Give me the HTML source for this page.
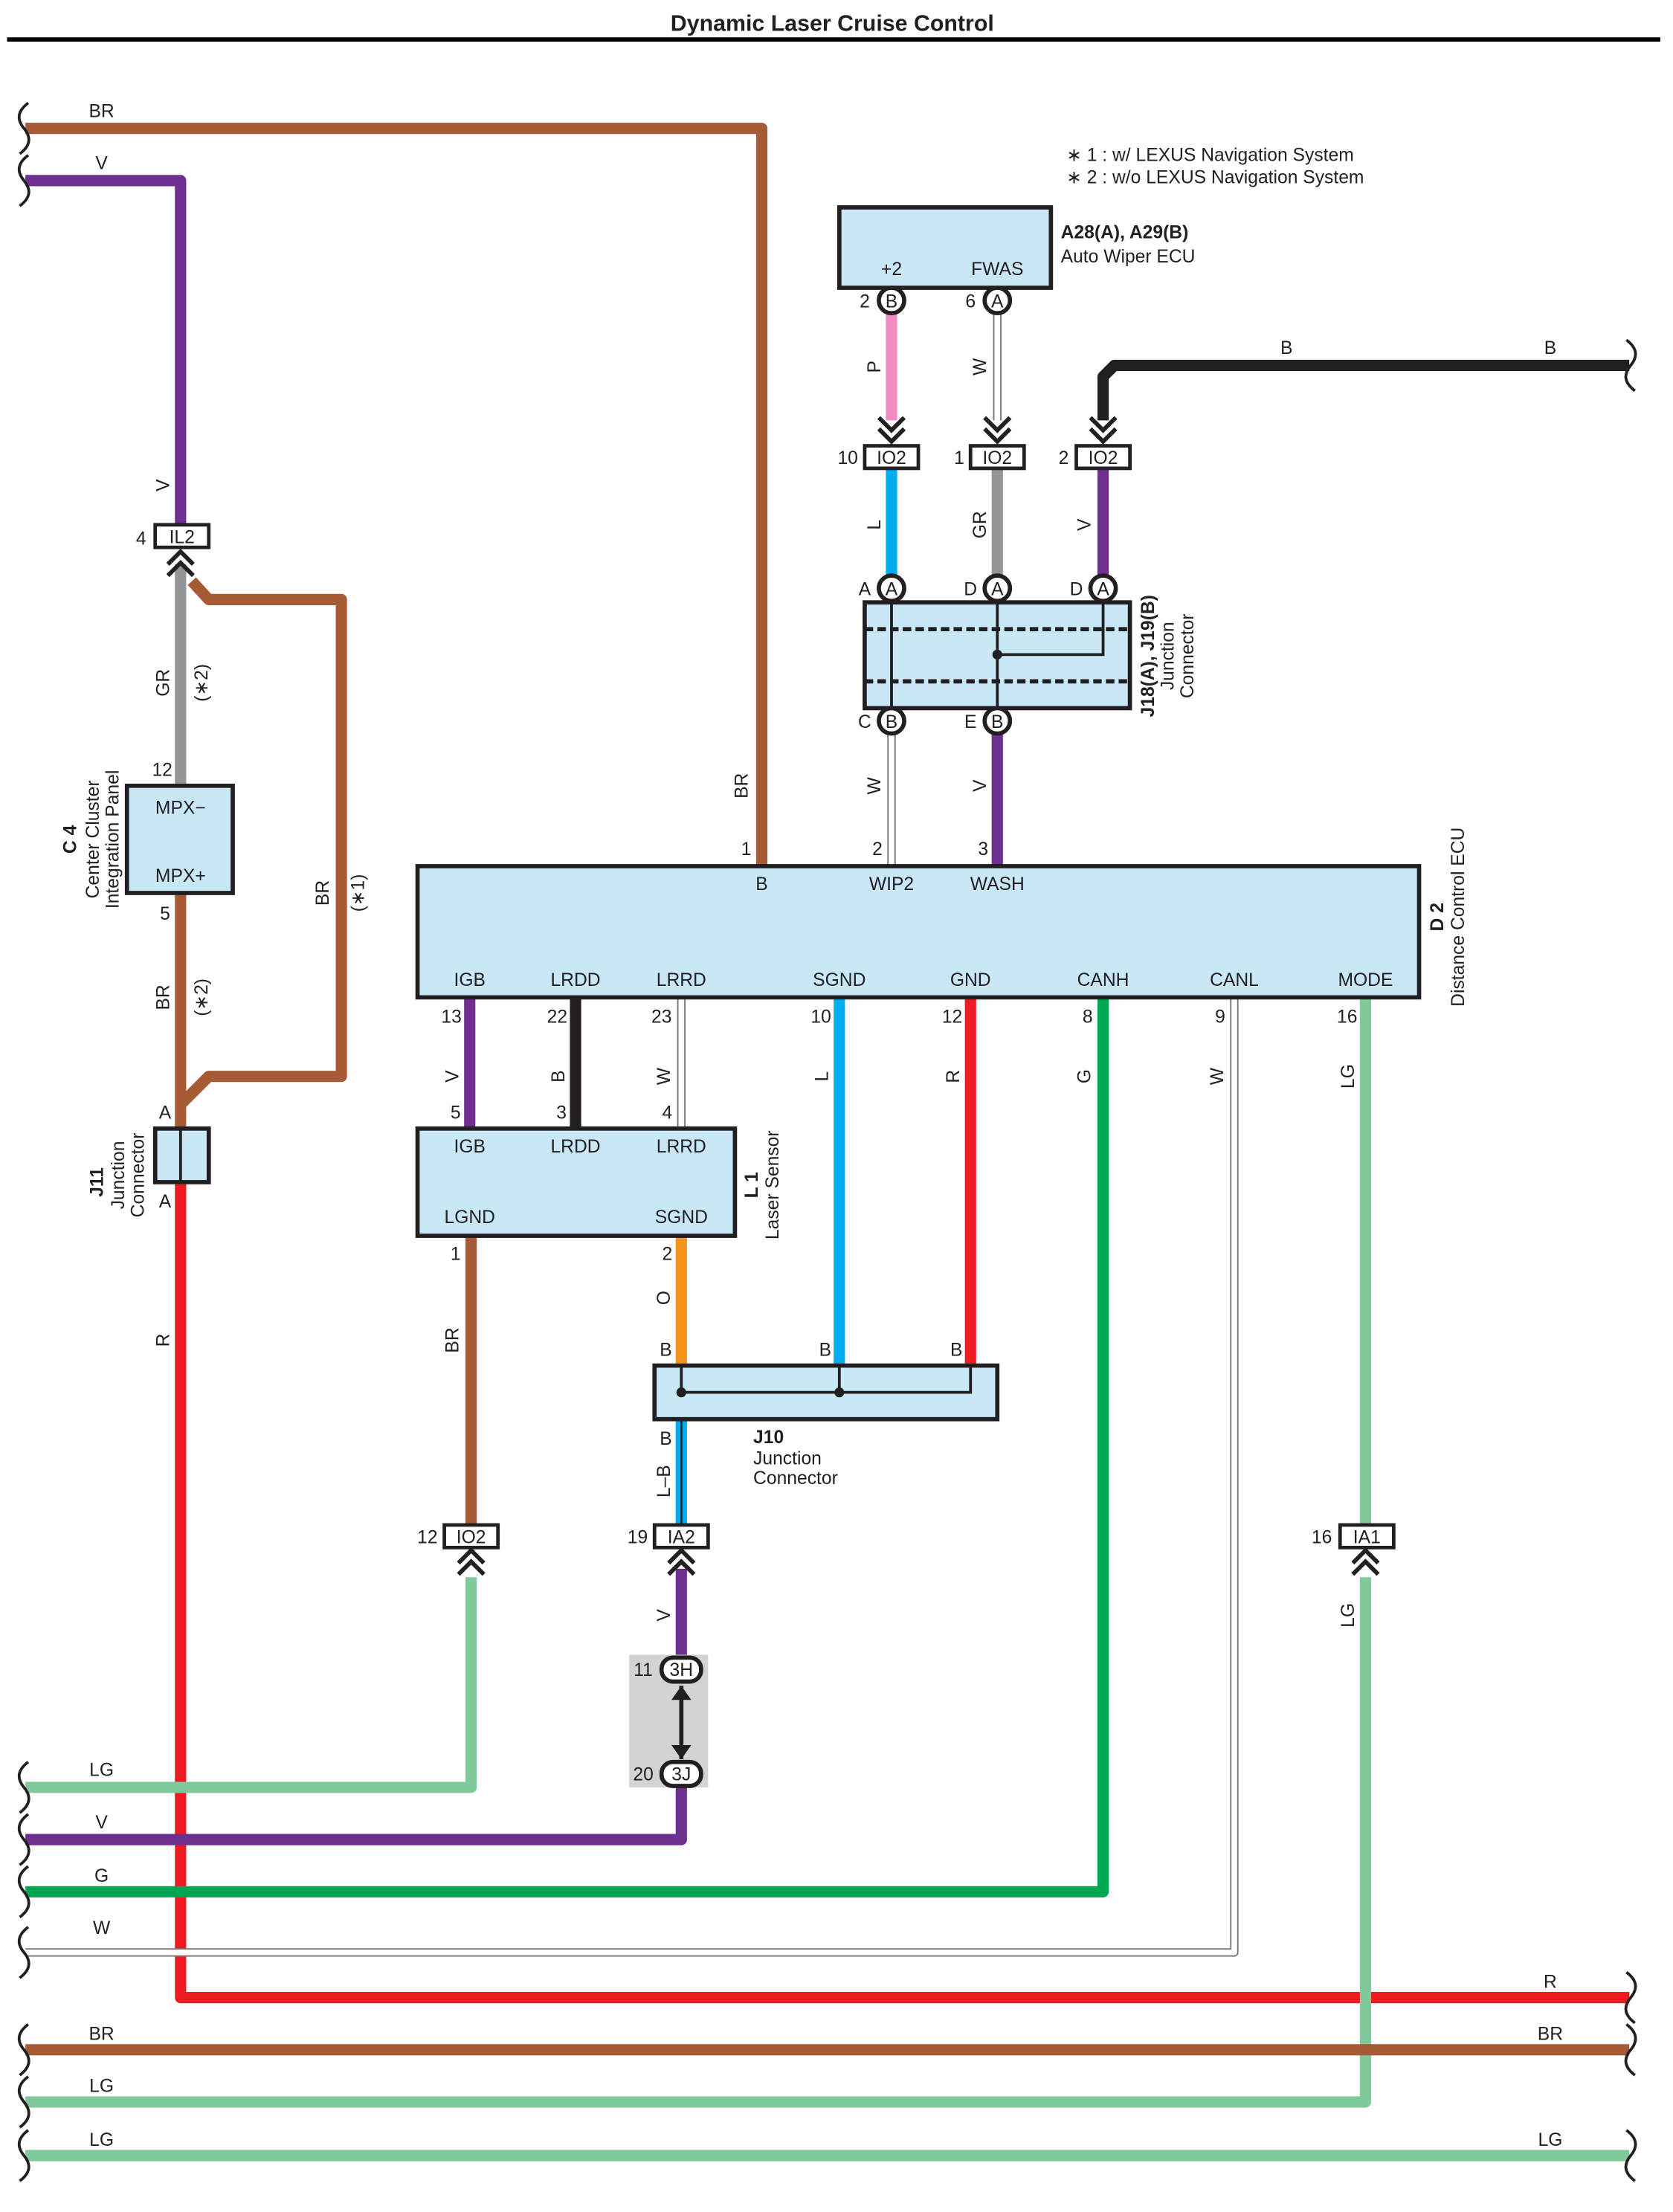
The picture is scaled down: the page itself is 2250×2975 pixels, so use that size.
<!DOCTYPE html>
<html><head><meta charset="utf-8"><style>
html,body{margin:0;padding:0;background:#fff;}
svg{display:block;}
text{font-family:"Liberation Sans",sans-serif;font-size:13px;fill:#231f20;}
.b{font-weight:bold;}
.m{text-anchor:middle;}
</style></head><body>
<svg width="2250" height="2975" viewBox="0 0 1186 1568" preserveAspectRatio="none" xmlns="http://www.w3.org/2000/svg">
<rect width="1186" height="1568" fill="#fff"/>
<text x="590" y="22" class="b m" style="font-size:16px">Dynamic Laser Cruise Control</text>
<line x1="5" y1="28" x2="1177" y2="28" stroke="#000" stroke-width="3"/>

<g fill="none" stroke-linejoin="round" stroke-width="8">
<polyline points="18,91 540,91 540,614" stroke="#a65a35"/>
<polyline points="18,128 128,128 128,372" stroke="#6e2f8e"/>
<polyline points="128,400 128,557" stroke="#939598"/>
<polyline points="136,412 148,425 242,425 242,763 148,763 128,783" stroke="#a65a35"/>
<polyline points="128,633 128,800" stroke="#a65a35"/>
<polyline points="128,838 128,1416 1155,1416" stroke="#ed1c24"/>
<polyline points="333,707 333,800" stroke="#6e2f8e"/>
<polyline points="408,707 408,800" stroke="#231f20"/>
<polyline points="595,707 595,968" stroke="#00aeef"/>
<polyline points="688,707 688,968" stroke="#ed1c24"/>
<polyline points="483,876 483,968" stroke="#f7941d"/>
<polyline points="334,876 334,1081" stroke="#a65a35"/>
<polyline points="334,1118 334,1267 18,1267" stroke="#80c99b"/>
<polyline points="483,1006 483,1081" stroke="#00aeef"/>
<polyline points="483,1112 483,1175" stroke="#6e2f8e"/>
<polyline points="483,1267 483,1304 18,1304" stroke="#6e2f8e"/>
<polyline points="782,707 782,1341 18,1341" stroke="#00a651"/>
<polyline points="968,707 968,1081" stroke="#80c99b"/>
<polyline points="968,1118 968,1490 18,1490" stroke="#80c99b"/>
<polyline points="18,1453 1155,1453" stroke="#a65a35"/>
<polyline points="18,1528 1155,1528" stroke="#80c99b"/>
<polyline points="632,222 632,298" stroke="#f08cbf"/>
<polyline points="1155,259 790,259 782,267 782,298" stroke="#231f20"/>
<polyline points="632,332 632,408" stroke="#00aeef"/>
<polyline points="707,332 707,408" stroke="#939598"/>
<polyline points="782,332 782,408" stroke="#6e2f8e"/>
<polyline points="707,520 707,614" stroke="#6e2f8e"/>
</g>
<line x1="483" y1="1006" x2="483" y2="1081" stroke="#231f20" stroke-width="1.5"/>
<g fill="none" stroke-linejoin="round">
<polyline points="483,707 483,800" stroke="#777" stroke-width="6"/>
<polyline points="483,707 483,800" stroke="#fff" stroke-width="4"/>
<polyline points="875,707 875,1384 18,1384" stroke="#777" stroke-width="6"/>
<polyline points="875,707 875,1384 18,1384" stroke="#fff" stroke-width="4"/>
<polyline points="707,222 707,298" stroke="#777" stroke-width="6"/>
<polyline points="707,222 707,298" stroke="#fff" stroke-width="4"/>
<polyline points="632,520 632,614" stroke="#777" stroke-width="6"/>
<polyline points="632,520 632,614" stroke="#fff" stroke-width="4"/>
</g>

<g fill="none" stroke="#231f20" stroke-width="2">
<path d="M20,73 c-8,6 -8,12 -3,18 c5,6 5,12 -3,18"/>
<path d="M20,110 c-8,6 -8,12 -3,18 c5,6 5,12 -3,18"/>
<path d="M20,1249 c-8,6 -8,12 -3,18 c5,6 5,12 -3,18"/>
<path d="M20,1286 c-8,6 -8,12 -3,18 c5,6 5,12 -3,18"/>
<path d="M20,1323 c-8,6 -8,12 -3,18 c5,6 5,12 -3,18"/>
<path d="M20,1366 c-8,6 -8,12 -3,18 c5,6 5,12 -3,18"/>
<path d="M20,1435 c-8,6 -8,12 -3,18 c5,6 5,12 -3,18"/>
<path d="M20,1472 c-8,6 -8,12 -3,18 c5,6 5,12 -3,18"/>
<path d="M20,1510 c-8,6 -8,12 -3,18 c5,6 5,12 -3,18"/>
<path d="M1153,241 c8,6 8,12 3,18 c-5,6 -5,12 3,18"/>
<path d="M1153,1398 c8,6 8,12 3,18 c-5,6 -5,12 3,18"/>
<path d="M1153,1435 c8,6 8,12 3,18 c-5,6 -5,12 3,18"/>
<path d="M1153,1510 c8,6 8,12 3,18 c-5,6 -5,12 3,18"/>
</g>

<g fill="none" stroke="#231f20" stroke-width="3">
<path d="M119,400 l9,-9 l9,9 M119,408 l9,-9 l9,9"/>
<path d="M325,1108 l9,-9 l9,9 M325,1116 l9,-9 l9,9"/>
<path d="M474,1108 l9,-9 l9,9 M474,1116 l9,-9 l9,9"/>
<path d="M959,1108 l9,-9 l9,9 M959,1116 l9,-9 l9,9"/>
<path d="M623,296 l9,9 l9,-9 M623,304 l9,9 l9,-9"/>
<path d="M698,296 l9,9 l9,-9 M698,304 l9,9 l9,-9"/>
<path d="M773,296 l9,9 l9,-9 M773,304 l9,9 l9,-9"/>
</g>

<g stroke="#231f20" stroke-width="3" fill="#c8e7f7">
<rect x="90" y="557" width="75" height="76"/>
<rect x="110" y="800" width="38" height="38"/>
<rect x="296" y="614" width="710" height="93"/>
<rect x="296" y="800" width="225" height="76"/>
<rect x="464" y="968" width="243" height="38"/>
<rect x="595" y="147" width="150" height="57"/>
<rect x="613" y="427" width="188" height="75"/>
</g>
<line x1="128" y1="800" x2="128" y2="838" stroke="#231f20" stroke-width="2"/>
<g stroke="#231f20" stroke-width="2" fill="none">
<polyline points="483,968 483,987 688,987 688,968"/>
<line x1="595" y1="968" x2="595" y2="987"/>
<line x1="632" y1="427" x2="632" y2="502"/>
<line x1="707" y1="427" x2="707" y2="502"/>
<polyline points="782,427 782,464 707,464"/>
<line x1="613" y1="446" x2="801" y2="446" stroke-dasharray="6,3" stroke-width="3"/>
<line x1="613" y1="483" x2="801" y2="483" stroke-dasharray="6,3" stroke-width="3"/>
</g>
<circle cx="483" cy="987" r="3.5" fill="#231f20"/>
<circle cx="595" cy="987" r="3.5" fill="#231f20"/>
<circle cx="707" cy="464" r="3.5" fill="#231f20"/>

<g stroke="#231f20" stroke-width="2.5" fill="#fff">
<rect x="110" y="372" width="38" height="16"/>
<rect x="315" y="1081" width="38" height="16"/>
<rect x="464" y="1081" width="38" height="16"/>
<rect x="950" y="1081" width="38" height="16"/>
<rect x="613" y="316" width="38" height="16"/>
<rect x="688" y="316" width="38" height="16"/>
<rect x="763" y="316" width="38" height="16"/>
</g>
<g>
<text x="129" y="385" class="m">IL2</text>
<text x="334" y="1094" class="m">IO2</text>
<text x="483" y="1094" class="m">IA2</text>
<text x="969" y="1094" class="m">IA1</text>
<text x="632" y="329" class="m">IO2</text>
<text x="707" y="329" class="m">IO2</text>
<text x="782" y="329" class="m">IO2</text>
</g>

<rect x="446" y="1173" width="56" height="94" fill="#d1d3d4"/>
<line x1="483" y1="1195" x2="483" y2="1247" stroke="#231f20" stroke-width="3"/>
<path d="M476,1205 l7,-10 l7,10 z M476,1237 l7,10 l7,-10 z" fill="#231f20"/>
<g stroke="#231f20" stroke-width="3" fill="#fff">
<rect x="469" y="1175" width="28" height="17" rx="8"/>
<rect x="469" y="1249" width="28" height="17" rx="8"/>
<circle cx="632" cy="213" r="9"/><circle cx="707" cy="213" r="9"/>
<circle cx="632" cy="417" r="9"/><circle cx="707" cy="417" r="9"/><circle cx="782" cy="417" r="9"/>
<circle cx="632" cy="511" r="9"/><circle cx="707" cy="511" r="9"/>
</g>
<g>
<text x="483" y="1188" class="m">3H</text><text x="483" y="1262" class="m">3J</text>
<text x="632" y="218" class="m">B</text><text x="707" y="218" class="m">A</text>
<text x="632" y="422" class="m">A</text><text x="707" y="422" class="m">A</text><text x="782" y="422" class="m">A</text>
<text x="632" y="516" class="m">B</text><text x="707" y="516" class="m">B</text>
</g>

<g>
<text x="456" y="1188" class="m">11</text><text x="456" y="1262" class="m">20</text>
<text x="613" y="218" class="m">2</text><text x="688" y="218" class="m">6</text>
<text x="601" y="329" class="m">10</text><text x="680" y="329" class="m">1</text><text x="754" y="329" class="m">2</text>
<text x="613" y="422" class="m">A</text><text x="688" y="422" class="m">D</text><text x="763" y="422" class="m">D</text>
<text x="613" y="516" class="m">C</text><text x="688" y="516" class="m">E</text>
<text x="632" y="195" class="m">+2</text><text x="707" y="195" class="m">FWAS</text>
<text x="752" y="169" class="b">A28(A), A29(B)</text>
<text x="752" y="186">Auto Wiper ECU</text>
<text x="756" y="114">∗ 1 : w/ LEXUS Navigation System</text>
<text x="756" y="130">∗ 2 : w/o LEXUS Navigation System</text>
<text x="912" y="251" class="m">B</text><text x="1099" y="251" class="m">B</text>
<text x="72" y="83" class="m">BR</text><text x="72" y="120" class="m">V</text>
<text x="100" y="386" class="m">4</text>
<text x="128" y="577" class="m">MPX−</text><text x="128" y="625" class="m">MPX+</text>
<text x="115" y="550" class="m">12</text><text x="117" y="652" class="m">5</text>
<text x="117" y="793" class="m">A</text><text x="117" y="856" class="m">A</text>
<text x="540" y="631" class="m">B</text><text x="632" y="631" class="m">WIP2</text><text x="707" y="631" class="m">WASH</text>
<text x="529" y="606" class="m">1</text><text x="622" y="606" class="m">2</text><text x="697" y="606" class="m">3</text>
<text x="333" y="699" class="m">IGB</text><text x="408" y="699" class="m">LRDD</text><text x="483" y="699" class="m">LRRD</text>
<text x="595" y="699" class="m">SGND</text><text x="688" y="699" class="m">GND</text><text x="782" y="699" class="m">CANH</text>
<text x="875" y="699" class="m">CANL</text><text x="968" y="699" class="m">MODE</text>
<text x="320" y="725" class="m">13</text><text x="395" y="725" class="m">22</text><text x="469" y="725" class="m">23</text>
<text x="582" y="725" class="m">10</text><text x="675" y="725" class="m">12</text><text x="771" y="725" class="m">8</text>
<text x="865" y="725" class="m">9</text><text x="955" y="725" class="m">16</text>
<text x="333" y="817" class="m">IGB</text><text x="408" y="817" class="m">LRDD</text><text x="483" y="817" class="m">LRRD</text>
<text x="333" y="867" class="m">LGND</text><text x="483" y="867" class="m">SGND</text>
<text x="323" y="793" class="m">5</text><text x="398" y="793" class="m">3</text><text x="473" y="793" class="m">4</text>
<text x="323" y="893" class="m">1</text><text x="473" y="893" class="m">2</text>
<text x="472" y="961" class="m">B</text><text x="585" y="961" class="m">B</text><text x="678" y="961" class="m">B</text>
<text x="472" y="1024" class="m">B</text>
<text x="534" y="1023" class="b">J10</text><text x="534" y="1038">Junction</text><text x="534" y="1052">Connector</text>
<text x="303" y="1094" class="m">12</text><text x="452" y="1094" class="m">19</text><text x="937" y="1094" class="m">16</text>
<text x="72" y="1259" class="m">LG</text><text x="72" y="1296" class="m">V</text><text x="72" y="1334" class="m">G</text>
<text x="72" y="1371" class="m">W</text><text x="72" y="1446" class="m">BR</text><text x="72" y="1483" class="m">LG</text>
<text x="72" y="1521" class="m">LG</text>
<text x="1099" y="1409" class="m">R</text><text x="1099" y="1446" class="m">BR</text><text x="1099" y="1521" class="m">LG</text>
</g>
<g>
<text transform="translate(120,344) rotate(-90)" class="m">V</text>
<text transform="translate(120,484) rotate(-90)" class="m">GR</text>
<text transform="translate(147,484) rotate(-90)" class="m">(∗2)</text>
<text transform="translate(120,707) rotate(-90)" class="m">BR</text>
<text transform="translate(147,707) rotate(-90)" class="m">(∗2)</text>
<text transform="translate(233,633) rotate(-90)" class="m">BR</text>
<text transform="translate(258,633) rotate(-90)" class="m">(∗1)</text>
<text transform="translate(120,950) rotate(-90)" class="m">R</text>
<text transform="translate(54,595) rotate(-90)" class="m b">C 4</text>
<text transform="translate(70,595) rotate(-90)" class="m">Center Cluster</text>
<text transform="translate(84,595) rotate(-90)" class="m">Integration Panel</text>
<text transform="translate(73,838) rotate(-90)" class="m b">J11</text>
<text transform="translate(88,833) rotate(-90)" class="m">Junction</text>
<text transform="translate(102,833) rotate(-90)" class="m">Connector</text>
<text transform="translate(530,557) rotate(-90)" class="m">BR</text>
<text transform="translate(624,557) rotate(-90)" class="m">W</text>
<text transform="translate(699,557) rotate(-90)" class="m">V</text>
<text transform="translate(624,260) rotate(-90)" class="m">P</text>
<text transform="translate(699,260) rotate(-90)" class="m">W</text>
<text transform="translate(624,372) rotate(-90)" class="m">L</text>
<text transform="translate(699,372) rotate(-90)" class="m">GR</text>
<text transform="translate(773,372) rotate(-90)" class="m">V</text>
<text transform="translate(818,465) rotate(-90)" class="m b">J18(A), J19(B)</text>
<text transform="translate(832,465) rotate(-90)" class="m">Junction</text>
<text transform="translate(846,465) rotate(-90)" class="m">Connector</text>
<text transform="translate(1023,650) rotate(-90)" class="m b">D 2</text>
<text transform="translate(1038,650) rotate(-90)" class="m">Distance Control ECU</text>
<text transform="translate(325,763) rotate(-90)" class="m">V</text>
<text transform="translate(400,763) rotate(-90)" class="m">B</text>
<text transform="translate(475,763) rotate(-90)" class="m">W</text>
<text transform="translate(587,763) rotate(-90)" class="m">L</text>
<text transform="translate(680,763) rotate(-90)" class="m">R</text>
<text transform="translate(773,763) rotate(-90)" class="m">G</text>
<text transform="translate(867,763) rotate(-90)" class="m">W</text>
<text transform="translate(960,763) rotate(-90)" class="m">LG</text>
<text transform="translate(537,840) rotate(-90)" class="m b">L 1</text>
<text transform="translate(552,840) rotate(-90)" class="m">Laser Sensor</text>
<text transform="translate(475,920) rotate(-90)" class="m">O</text>
<text transform="translate(325,950) rotate(-90)" class="m">BR</text>
<text transform="translate(475,1050) rotate(-90)" class="m">L–B</text>
<text transform="translate(475,1145) rotate(-90)" class="m">V</text>
<text transform="translate(960,1145) rotate(-90)" class="m">LG</text>
</g>
</svg>
</body></html>
